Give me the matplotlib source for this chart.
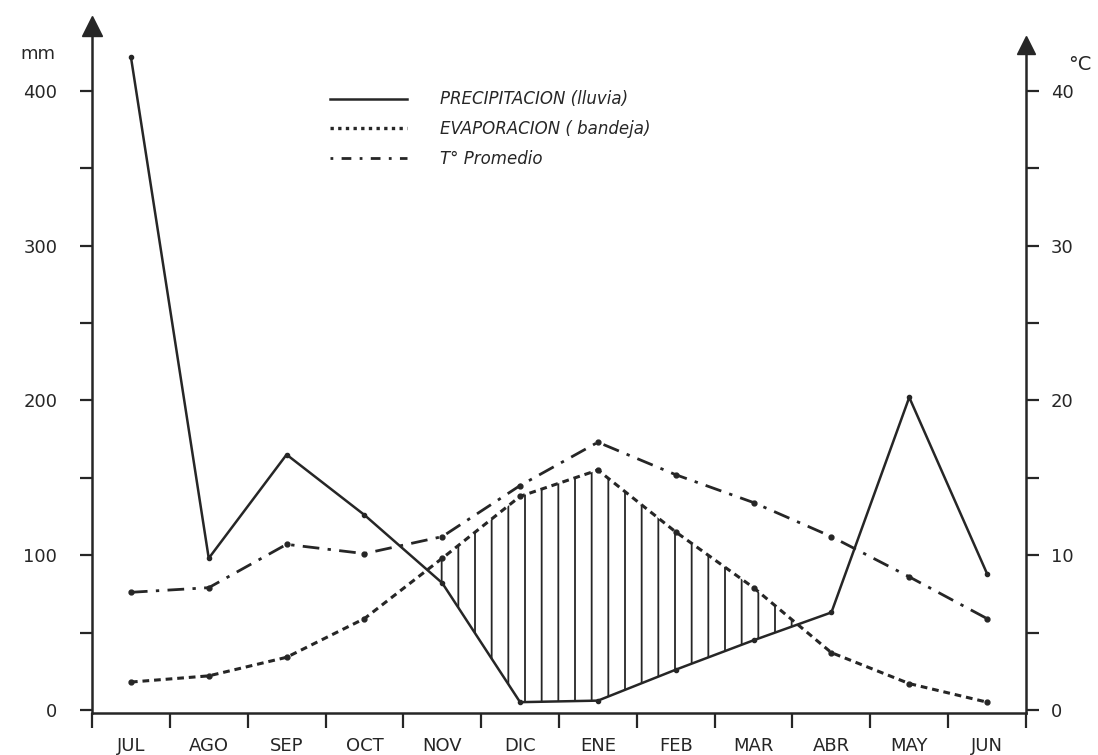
import numpy as np
import matplotlib
matplotlib.use('Agg')
import matplotlib.pyplot as plt

# datos mensuales (julio a junio)
meses = ['JUL', 'AGO', 'SEP', 'OCT', 'NOV', 'DIC', 'ENE', 'FEB', 'MAR', 'ABR', 'MAY', 'JUN']
precipitacion = [422, 98, 165, 126, 82, 5, 6, 26, 45, 63, 202, 88]      # mm
evaporacion = [18, 22, 34, 59, 98, 138, 155, 115, 79, 37, 17, 5]        # mm
temperatura = [7.6, 7.9, 10.7, 10.1, 11.2, 14.5, 17.3, 15.2, 13.4, 11.2, 8.6, 5.9]  # °C

mm_ticks = [0, 100, 200, 300, 400]
c_ticks = [0, 10, 20, 30, 40]

ink = '#262626'
plt.rcParams['font.family'] = ['DejaVu Sans']
plt.rcParams['hatch.linewidth'] = 1.3

x = np.arange(len(meses))
prec = np.array(precipitacion)
evap = np.array(evaporacion)
temp = np.array(temperatura)

fig = plt.figure(figsize=(10.98, 7.55), dpi=100)
ax = fig.add_axes([92 / 1098, 42 / 755, 934 / 1098, 687 / 755])
ax2 = ax.twinx()

ymin, ymax = -2, 442
ax.set_xlim(-0.5, 11.5)
ax.set_ylim(ymin, ymax)
ax2.set_ylim(ymin / 10, ymax / 10)

# zona de deficit (evaporacion > precipitacion)
ax.fill_between(x, prec, evap, where=evap > prec, interpolate=True,
                facecolor='none', edgecolor=ink, hatch='|', linewidth=0)

ax.plot(x, prec, '-', color=ink, lw=1.8, marker='o', ms=3)
ax.plot(x, evap, color=ink, lw=2.2, dashes=(2.2, 1.6), marker='o', ms=3.5)
ax2.plot(x, temp, color=ink, lw=2.0, dashes=(6, 3, 1.2, 3), marker='o', ms=3.5)

# muestras de la leyenda (sin marcadores)
ax.plot([], [], '-', color=ink, lw=1.8, label='PRECIPITACION (lluvia)')
ax.plot([], [], color=ink, lw=2.4, dashes=(1, 1.3), label='EVAPORACION ( bandeja)')
ax.plot([], [], color=ink, lw=2.0, dashes=(1, 3, 3.5, 3), label='T° Promedio')

# ejes
for a in (ax, ax2):
    a.spines['top'].set_visible(False)
    for s in a.spines.values():
        s.set_color(ink)
        s.set_linewidth(1.8)
ax.spines['right'].set_visible(False)
ax2.spines['left'].set_visible(False)
ax2.spines['bottom'].set_visible(False)
ax2.spines['right'].set_bounds(ymin / 10, 43)

ax.set_yticks(np.arange(0, 401, 50))
ax.set_yticklabels([str(v) if v in mm_ticks else '' for v in range(0, 401, 50)])
ax2.set_yticks(np.arange(0, 41, 5))
ax2.set_yticklabels([str(v) if v in c_ticks else '' for v in range(0, 41, 5)])
ax.tick_params(axis='y', direction='out', length=9, width=1.6, color=ink,
               labelsize=13, labelcolor=ink, pad=16)
ax2.tick_params(axis='y', direction='out', length=9, width=1.6, color=ink,
                labelsize=13, labelcolor=ink, pad=9)

ax.set_xticks(np.arange(-0.5, 12, 1))
ax.set_xticklabels([])
ax.set_xticks(x, minor=True)
ax.set_xticklabels(meses, minor=True)
ax.tick_params(axis='x', which='major', direction='out', length=11, width=1.6, color=ink)
ax.tick_params(axis='x', which='minor', length=0, labelsize=13, labelcolor=ink, pad=17)

# flechas de los ejes
ax.plot([0], [1], marker='^', ms=15, color=ink, transform=ax.transAxes, clip_on=False)
ax2.plot([11.5], [43], marker='^', ms=13, color=ink, clip_on=False)

fig.text(38 / 1098, 1 - 54 / 755, 'mm', ha='center', va='center', fontsize=13, color=ink)
fig.text(1080 / 1098, 1 - 64 / 755, '°C', ha='center', va='center', fontsize=14, color=ink)

leg = ax.legend(loc='upper left', bbox_to_anchor=(322 / 1098, 1 - 82 / 755),
                bbox_transform=fig.transFigure, frameon=False, handlelength=4.6,
                handletextpad=2.0, labelspacing=0.7, borderpad=0,
                prop={'size': 12, 'style': 'italic'})
for t in leg.get_texts():
    t.set_color(ink)

fig.savefig('out.png', dpi=100, facecolor='white')
